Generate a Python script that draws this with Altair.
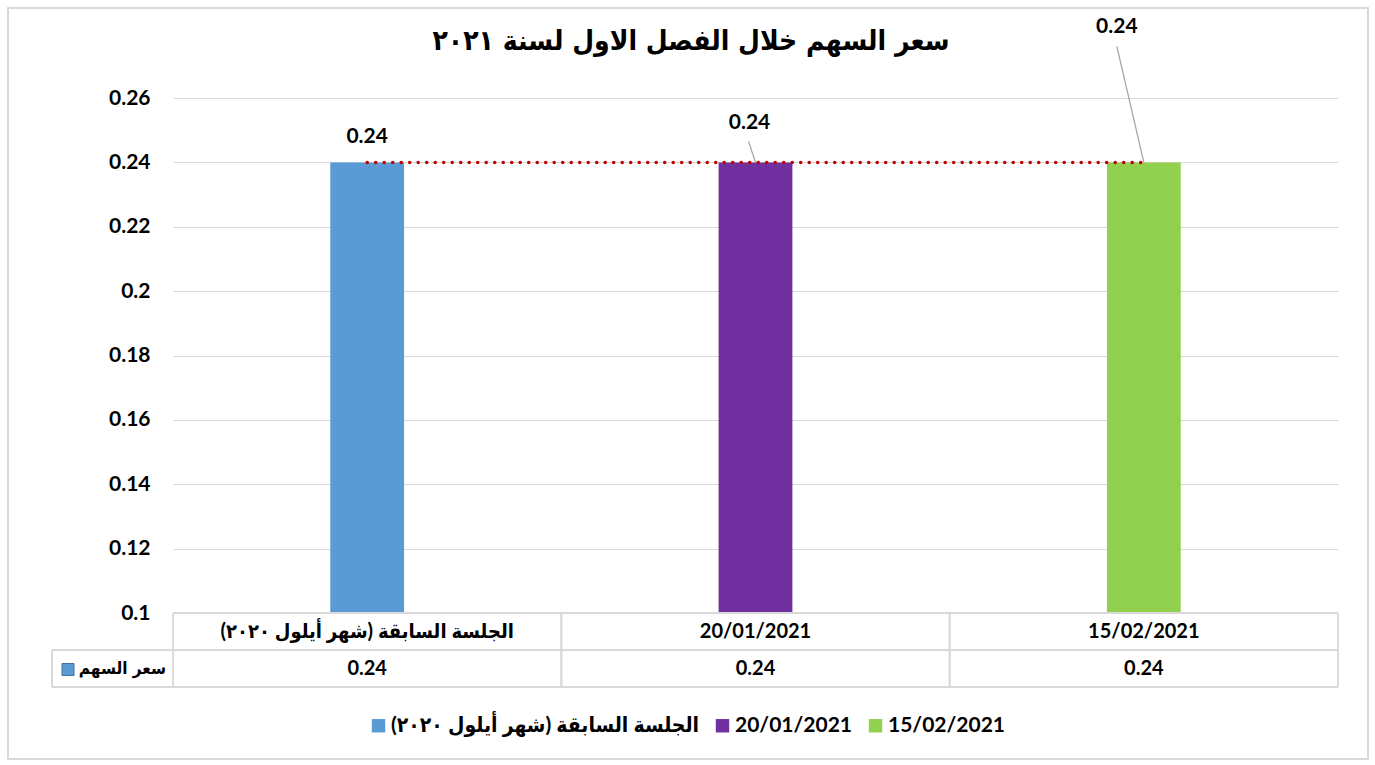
import altair as alt
import pandas as pd

# ---------------- data ----------------
categories = ["الجلسة السابقة (شهر أيلول ٢٠٢٠)", "20/01/2021", "15/02/2021"]
prices = [0.24, 0.24, 0.24]
colors = ["#5B9BD5", "#7030A0", "#92D050"]
series_name = "سعر السهم"
title_text = "سعر السهم خلال الفصل الاول لسنة ٢٠٢١"
y_ticks = [0.1, 0.12, 0.14, 0.16, 0.18, 0.2, 0.22, 0.24, 0.26]
y_domain = [0.1, 0.26]

df = pd.DataFrame({"cat": categories, "price": prices})

# ---------------- layout / style ----------------
W, H = 1165, 515
PAD = {"left": 173, "top": 98, "right": 37, "bottom": 152}
NUM_FONT = "Lato, DejaVu Sans Condensed"
AR_FONT = "DejaVu Sans Condensed"
GRID = "#d9d9d9"
ROW_H = 37

x_scale = alt.Scale(domain=categories, paddingInner=0, paddingOuter=0)
x_enc = alt.X("cat:N", sort=categories, scale=x_scale, axis=None)
y_scale = alt.Scale(domain=y_domain, nice=False, zero=False)

base = alt.Chart(df)

bars = base.mark_bar(width=alt.RelativeBandSize(0.19)).encode(
    x=x_enc,
    y=alt.Y(
        "price:Q",
        scale=y_scale,
        axis=alt.Axis(
            values=y_ticks,
            format=".2~f",
            title=None,
            domain=False,
            ticks=False,
            grid=True,
            gridColor=GRID,
            gridWidth=1,
            labelFont=NUM_FONT,
            labelFontWeight="bold",
            labelFontSize=21,
            labelColor="black",
            labelPadding=23,
        ),
    ),
    y2=alt.datum(y_domain[0]),
    color=alt.Color(
        "cat:N",
        sort=categories,
        scale=alt.Scale(domain=categories, range=colors),
        legend=alt.Legend(
            title=None,
            orient="none",
            direction="horizontal",
            legendX=195,
            legendY=617,
            symbolType="square",
            symbolSize=180,
            symbolStrokeWidth=0,
            labelFont=NUM_FONT,
            labelFontWeight="bold",
            labelFontSize=21,
            labelColor="black",
            labelLimit=0,
            labelOffset=2,
            columnPadding=12,
        ),
    ),
)

trend = base.mark_line(
    color="#C00000", strokeDash=[0.1, 8.4], strokeCap="round", strokeWidth=3.5
).encode(x=x_enc, y=alt.Y("price:Q", scale=y_scale))

# data labels (dx, dy) and leader lines
label_offsets = [(0, -25), (-6, -39), (-27, -135)]
leader_offsets = [None, (-7, -21), (-27, -116)]
label_layers = []
for cat, (dx, dy), lead in zip(categories, label_offsets, leader_offsets):
    sub = base.transform_filter(alt.datum.cat == cat)
    if lead is not None:
        label_layers.append(
            sub.mark_rule(
                color="#a6a6a6", strokeWidth=1.3, x2Offset=lead[0], y2Offset=lead[1]
            ).encode(
                x=x_enc,
                x2=alt.X2("cat:N"),
                y=alt.Y("price:Q", scale=y_scale),
                y2=alt.Y2("price:Q"),
            )
        )
    label_layers.append(
        sub.mark_text(
            font=NUM_FONT, fontWeight="bold", fontSize=21, color="black",
            dx=dx, dy=dy, baseline="middle",
        ).encode(
            x=x_enc,
            y=alt.Y("price:Q", scale=y_scale),
            text=alt.Text("price:Q", format=".2f"),
        )
    )

# ---------------- data table ----------------
line_style = dict(color=GRID, strokeWidth=1.8)
table_lines = [
    base.mark_rule(**line_style).encode(x=alt.value(0), x2=alt.value(W), y=alt.value(H)),
    base.mark_rule(**line_style).encode(x=alt.value(-121), x2=alt.value(W), y=alt.value(H + ROW_H)),
    base.mark_rule(**line_style).encode(x=alt.value(-121), x2=alt.value(W), y=alt.value(H + 2 * ROW_H)),
    base.mark_rule(**line_style).encode(x=alt.value(-121), y=alt.value(H + ROW_H), y2=alt.value(H + 2 * ROW_H)),
    base.mark_rule(**line_style).encode(
        x=alt.X("cat:N", sort=categories, scale=x_scale, axis=None, bandPosition=0),
        y=alt.value(H), y2=alt.value(H + 2 * ROW_H),
    ),
    base.mark_rule(**line_style).encode(
        x=alt.X("cat:N", sort=categories, scale=x_scale, axis=None, bandPosition=1),
        y=alt.value(H), y2=alt.value(H + 2 * ROW_H),
    ),
]

table_cats = base.mark_text(
    font=NUM_FONT, fontWeight="bold", fontSize=20, color="black", baseline="middle"
).encode(x=x_enc, y=alt.value(H + ROW_H / 2), text="cat:N")

table_vals = base.mark_text(
    font=NUM_FONT, fontWeight="bold", fontSize=20, color="black", baseline="middle"
).encode(x=x_enc, y=alt.value(H + ROW_H * 1.5), text=alt.Text("price:Q", format=".2f"))

header_df = pd.DataFrame({"name": [series_name]})
header_text = alt.Chart(header_df).mark_text(
    font=AR_FONT, fontWeight="bold", fontSize=17, color="black",
    align="right", baseline="middle",
).encode(x=alt.value(-7), y=alt.value(H + ROW_H * 1.5), text="name:N")
header_sym = alt.Chart(header_df).mark_rect(
    fill=colors[0], stroke="#41719C", strokeWidth=1,
).encode(
    x=alt.value(62 - PAD["left"]), x2=alt.value(74 - PAD["left"]),
    y=alt.value(H + ROW_H * 1.5 - 5), y2=alt.value(H + ROW_H * 1.5 + 7),
)

# ---------------- title & border ----------------
title_df = pd.DataFrame({"t": [title_text]})
title = alt.Chart(title_df).mark_text(
    font=AR_FONT, fontWeight="bold", fontSize=28, color="black", baseline="middle"
).encode(x=alt.value(518), y=alt.value(-56), text="t:N")

border = base.mark_rect(fillOpacity=0, stroke=GRID, strokeWidth=1.5).encode(
    x=alt.value(8 - PAD["left"]), x2=alt.value(1368 - PAD["left"]),
    y=alt.value(8 - PAD["top"]), y2=alt.value(759 - PAD["top"]),
)

chart = alt.layer(
    border, bars, trend, *label_layers, *table_lines,
    table_cats, table_vals, header_text, header_sym, title,
).properties(
    width=W, height=H, padding=PAD, autosize="none", background="white"
).configure_view(stroke=None)

chart.save("out.html", embed_options={"renderer": "svg", "actions": False})
